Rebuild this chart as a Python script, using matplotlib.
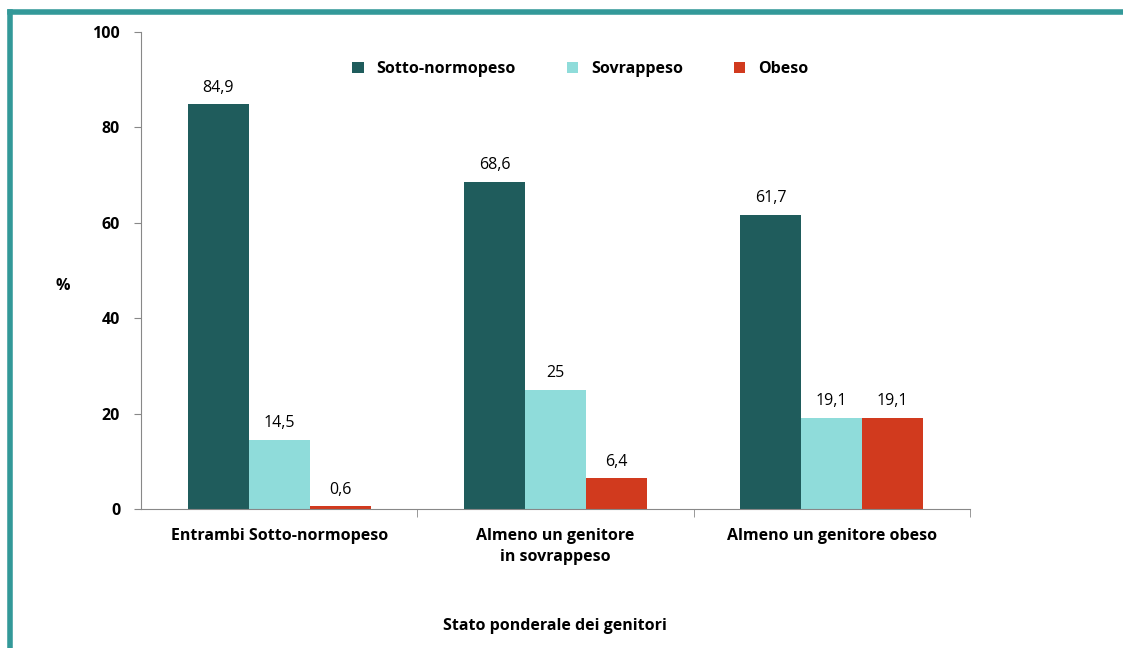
import matplotlib.pyplot as plt
from matplotlib.lines import Line2D
import numpy as np

plt.rcParams['font.family'] = ['Open Sans', 'DejaVu Sans']

categories = ["Entrambi Sotto-normopeso", "Almeno un genitore\nin sovrappeso", "Almeno un genitore obeso"]
series_names = ["Sotto-normopeso", "Sovrappeso", "Obeso"]
sotto = [84.9, 68.6, 61.7]
sovra = [14.5, 25, 19.1]
obeso = [0.6, 6.4, 19.1]
value_labels = [["84,9", "68,6", "61,7"], ["14,5", "25", "19,1"], ["0,6", "6,4", "19,1"]]
colors = ["#1f5c5c", "#8fdcda", "#d13a1e"]

fig = plt.figure(figsize=(11.23, 6.48), dpi=100)
ax = fig.add_axes([0.1256, 0.2145, 0.738, 0.736])

x = np.arange(len(categories))
w = 0.221
for i, (vals, name) in enumerate(zip([sotto, sovra, obeso], series_names)):
	pos = x + (i - 1) * w
	ax.bar(pos, vals, width=w, color=colors[i], label=name)
	for p, v, lab in zip(pos, vals, value_labels[i]):
		ax.text(p, v + 1.8, lab, ha='center', va='bottom', fontsize=11.5)

ax.set_xlim(-0.5, 2.5)
ax.set_ylim(0, 100)
ax.set_yticks([0, 20, 40, 60, 80, 100])
ax.set_yticklabels(["0", "20", "40", "60", "80", "100"], fontweight='bold', fontsize=11.5)
ax.set_xticks([0.5, 1.5, 2.5], minor=True)
ax.set_xticks(x)
ax.set_xticklabels(categories, fontweight='bold', fontsize=11.5, linespacing=1.4)
ax.tick_params(axis='x', which='major', length=0, pad=14)
ax.tick_params(axis='x', which='minor', length=6, color='#888888', direction='out')
ax.tick_params(axis='y', length=5, color='#888888', direction='out', pad=10)
for s in ['top', 'right']:
	ax.spines[s].set_visible(False)
for s in ['left', 'bottom']:
	ax.spines[s].set_color('#888888')

ax.set_ylabel("%", rotation=0, fontweight='bold', fontsize=11.5)
ax.yaxis.set_label_coords(-0.095, 0.45)
ax.set_xlabel("Stato ponderale dei genitori", fontweight='bold', fontsize=11.5, labelpad=38)

ax.legend(loc='upper center', bbox_to_anchor=(0.53, 0.97), ncol=3, frameon=False,
	handlelength=0.7, handleheight=0.7, columnspacing=3.2, prop={'weight': 'bold', 'size': 11.5})

# teal frame on top and left
fig.add_artist(Line2D([0.009, 1.0], [0.982, 0.982], color='#339999', lw=4, transform=fig.transFigure))
fig.add_artist(Line2D([0.009, 0.009], [0.0, 0.982], color='#339999', lw=4, transform=fig.transFigure))

fig.savefig("out.png", dpi=100)
